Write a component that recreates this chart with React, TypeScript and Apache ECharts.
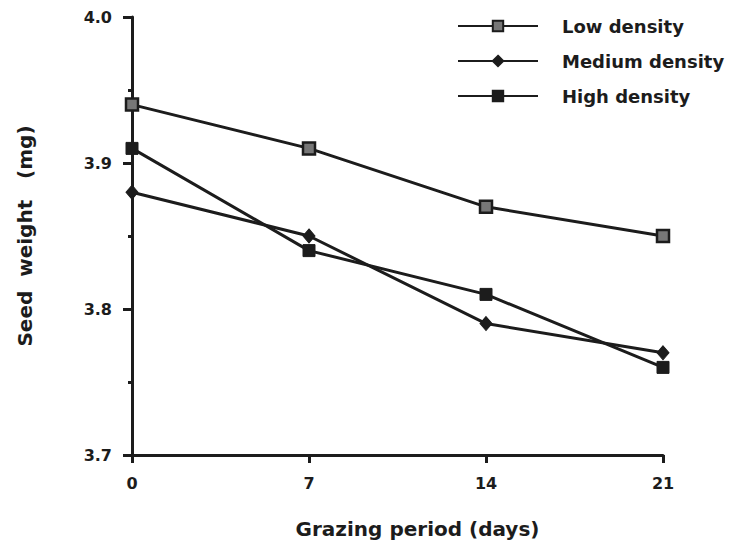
import React, { useEffect, useRef } from "react";
import * as echarts from "echarts";

const days = [0, 7, 14, 21];
const lowDensity = [3.94, 3.91, 3.87, 3.85];
const mediumDensity = [3.88, 3.85, 3.79, 3.77];
const highDensity = [3.91, 3.84, 3.81, 3.76];
const seriesNames = ["Low density", "Medium density", "High density"];

const INK = "#1c1c1c";
const FONT = "'DejaVu Sans', 'Liberation Sans', Arial, sans-serif";

export default function App() {
  const ref = useRef<HTMLDivElement>(null);
  useEffect(() => {
    if (!ref.current) return;
    const chart = echarts.init(ref.current, undefined, { renderer: "svg" });
    const pair = (vals: number[]) => days.map((d, i) => [d, vals[i]]);
    const lineStyle = { color: INK, width: 3 };
    chart.setOption({
      animation: false,
      backgroundColor: "#fff",
      grid: { left: 132, top: 17, right: 67, bottom: 93 },
      legend: {
        left: 457,
        top: 17,
        padding: 0,
        orient: "vertical",
        itemWidth: 80,
        itemHeight: 13,
        itemGap: 17,
        textStyle: {
          fontFamily: FONT,
          fontWeight: "bold",
          fontSize: 18,
          color: INK,
          padding: [0, 0, 0, 19],
        },
        data: seriesNames,
      },
      xAxis: {
        type: "value",
        min: 0,
        max: 21,
        interval: 7,
        name: "Grazing period (days)",
        nameLocation: "middle",
        nameGap: 64,
        nameTextStyle: {
          fontFamily: FONT,
          fontWeight: "bold",
          fontSize: 20,
          color: INK,
          padding: [0, 0, 0, 40],
        },
        axisLine: { show: true, lineStyle: { color: INK, width: 3 } },
        axisTick: { show: true, inside: false, length: 8, lineStyle: { color: INK, width: 3 } },
        axisLabel: { margin: 20, fontFamily: FONT, fontWeight: "bold", fontSize: 16, color: INK },
        splitLine: { show: false },
      },
      yAxis: {
        type: "value",
        min: 3.7,
        max: 4.0,
        interval: 0.1,
        name: "Seed  weight   (mg)",
        nameLocation: "middle",
        nameGap: 97,
        nameTextStyle: { fontFamily: FONT, fontWeight: "bold", fontSize: 20, color: INK },
        axisLine: { show: true, lineStyle: { color: INK, width: 3 } },
        axisTick: { show: true, inside: false, length: 9, lineStyle: { color: INK, width: 3 } },
        minorTick: { show: true, splitNumber: 2, length: 4, lineStyle: { color: INK, width: 3 } },
        axisLabel: {
          margin: 20,
          fontFamily: FONT,
          fontWeight: "bold",
          fontSize: 16,
          color: INK,
          formatter: (v: number) => v.toFixed(1),
        },
        splitLine: { show: false },
        minorSplitLine: { show: false },
      },
      series: [
        {
          name: seriesNames[0],
          type: "line",
          data: pair(lowDensity),
          symbol: "rect",
          symbolSize: 12,
          z: 3,
          lineStyle,
          itemStyle: { color: "#777", borderColor: INK, borderWidth: 2.5 },
        },
        {
          name: seriesNames[1],
          type: "line",
          data: pair(mediumDensity),
          symbol: "diamond",
          symbolSize: [12, 14],
          z: 3,
          lineStyle,
          itemStyle: { color: INK, borderColor: INK, borderWidth: 1 },
        },
        {
          name: seriesNames[2],
          type: "line",
          data: pair(highDensity),
          symbol: "rect",
          symbolSize: 12,
          z: 3,
          lineStyle,
          itemStyle: { color: INK, borderColor: INK, borderWidth: 1 },
        },
      ],
    });
    return () => chart.dispose();
  }, []);
  return <div ref={ref} style={{ width: 730, height: 548, position: "absolute", left: 0, top: 0 }} />;
}
